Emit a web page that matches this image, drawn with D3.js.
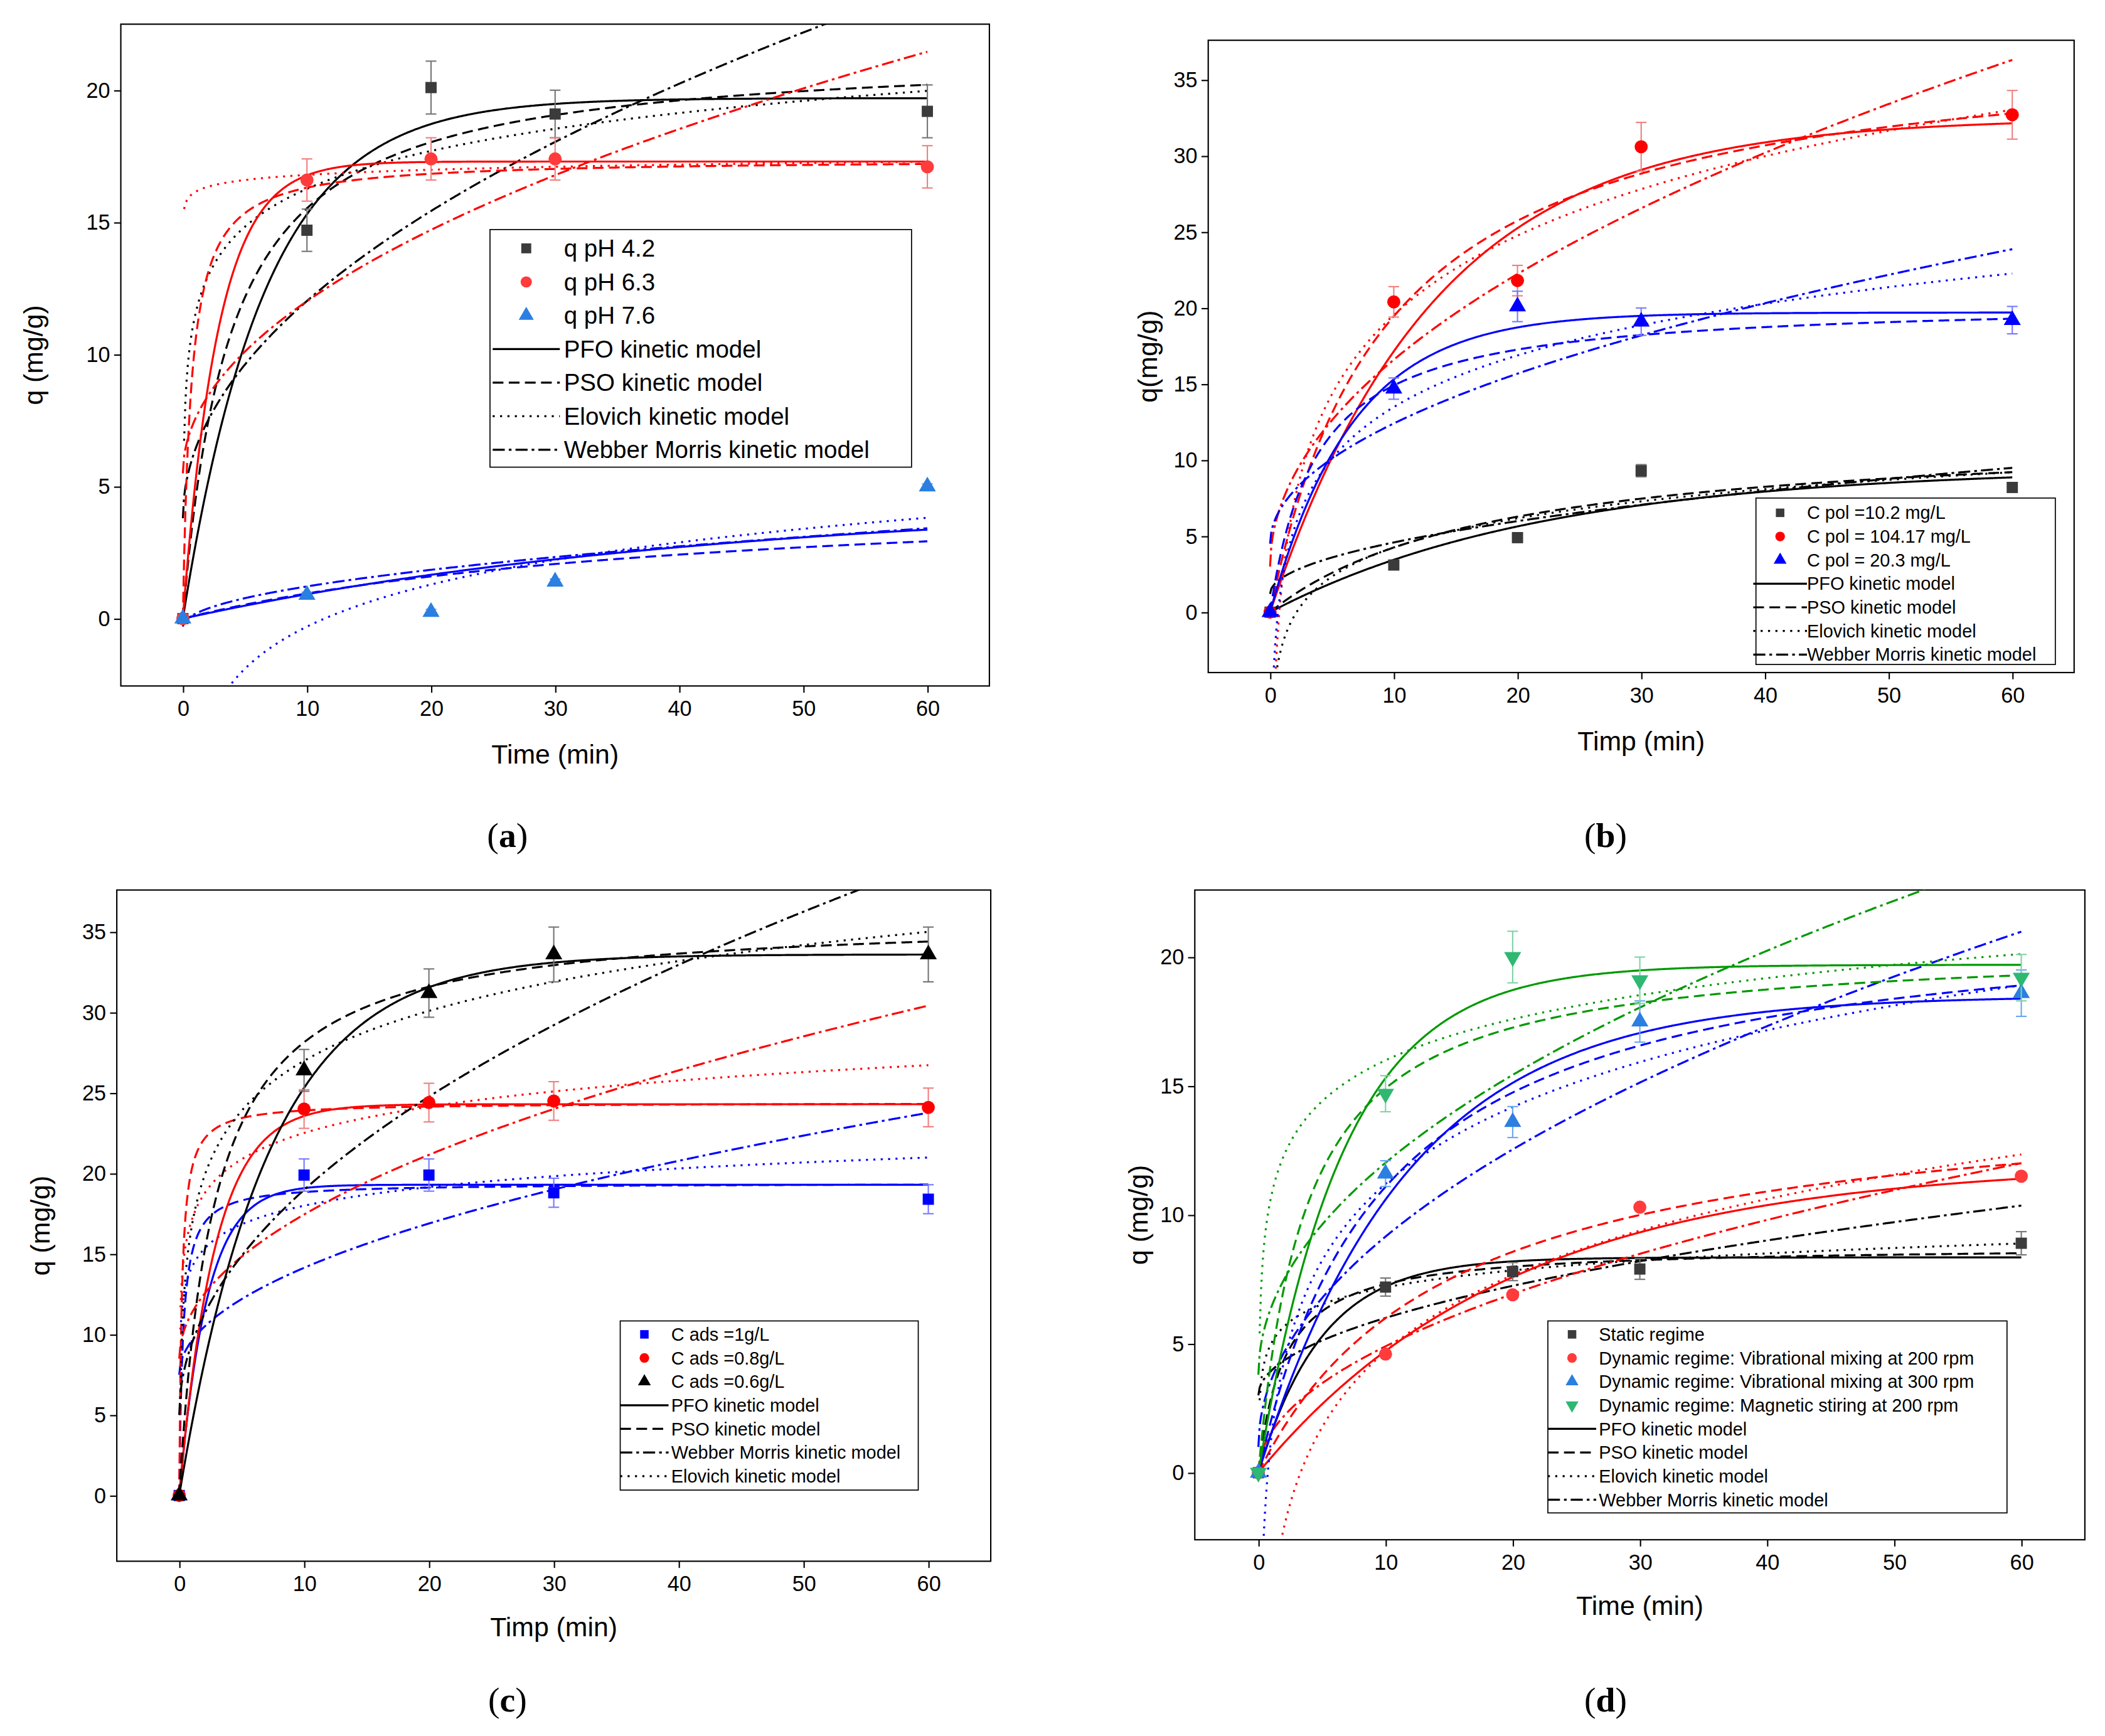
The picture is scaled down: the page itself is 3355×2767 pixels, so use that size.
<!DOCTYPE html>
<html><head><meta charset="utf-8">
<script src="https://cdn.jsdelivr.net/npm/d3@7"></script>
<style>body{margin:0;background:#fff}</style></head>
<body><svg id="c" width="3355" height="2767"></svg>
<script>
const times = [0, 10, 20, 30, 60];
// Panel (a)
const aPH42 = [0, 14.7, 20.1, 19.1, 19.2], aPH42err = [0, 0.8, 1.0, 0.9, 1.0];
const aPH63 = [0, 16.6, 17.4, 17.4, 17.1], aPH63err = [0, 0.8, 0.8, 0.8, 0.8];
const aPH76 = [0, 0.9, 0.25, 1.4, 5.0], aPH76err = [0, 0.1, 0.1, 0.1, 0.1];
// Panel (b)
const bC102 = [0, 3.1, 4.9, 9.3, 8.2], bC102err = [0, 0.3, 0.3, 0.4, 0.3];
const bC104 = [0, 20.4, 21.8, 30.6, 32.7], bC104err = [0, 1.0, 1.0, 1.6, 1.6];
const bC203 = [0, 14.7, 20.1, 19.1, 19.2], bC203err = [0, 0.7, 1.0, 0.9, 0.9];
// Panel (c)
const cA1 = [0, 19.9, 19.9, 18.8, 18.4], cA1err = [0, 1.0, 1.0, 0.9, 0.9];
const cA08 = [0, 24.0, 24.4, 24.5, 24.1], cA08err = [0, 1.2, 1.2, 1.2, 1.2];
const cA06 = [0, 26.4, 31.2, 33.6, 33.6], cA06err = [0, 1.3, 1.5, 1.7, 1.7];
// Panel (d)
const dStatic = [0, 7.2, 7.8, 7.9, 8.9], dStaticErr = [0, 0.35, 0.35, 0.4, 0.45];
const dV200 = [0, 4.6, 6.9, 10.3, 11.5], dV200err = [0, 0.1, 0.1, 0.1, 0.1];
const dV300 = [0, 11.6, 13.6, 17.5, 18.6], dV300err = [0, 0.5, 0.6, 0.8, 0.9];
const dM200 = [0, 14.7, 20.0, 19.1, 19.2], dM200err = [0, 0.7, 1.0, 0.9, 0.9];
// Fitted model parameters: [PFO qe,k1], [PSO qe,k2], [Elovich A,B], [WM C,kid]
const pfo = {a:[[19.7,0.15],[17.3,0.35],[4.5,0.023]], b:[[9.5,0.045],[32.5,0.075],[19.7,0.15]], c:[[19.3,0.45],[24.3,0.35],[33.6,0.14]], d:[[8.35,0.2],[12,0.05],[18.5,0.085],[19.7,0.15]]};
const pso = {a:[[21.5,0.0121],[17.4,0.086],[5,0.0047]], b:[[12,0.00457],[38,0.00276],[20.5,0.013]], c:[[19.4,0.175],[24.4,0.2],[36,0.00995]], d:[[8.8,0.056],[15,0.00444],[22,0.00462],[20.5,0.013]]};
const elo = {a:[[11.5,2.07],[16.15,0.28],[-5.6,2.3]], b:[[-2.1,2.76],[2.2,7.53],[2.2,4.9]], c:[[14.15,1.67],[17.1,2.35],[16.7,4.47]], d:[[5.0,0.95],[-5.1,4.26],[1.3,4.3],[10.7,2.3]]};
const wm = {a:[[3.8,2.6],[5.5,2.06],[-0.3,0.48]], b:[[1.2,1.07],[3,4.3],[4.5,2.5]], c:[[7.5,2.1],[8.5,2.83],[5,4.42]], d:[[3.0,0.95],[0,1.55],[1,2.58],[3.8,2.6]]};
const xTicks = [0,10,20,30,40,50,60];

const S = 3355/1568;
const svg = d3.select('#c');
const root = svg.append('g').attr('transform',`scale(${S})`);
const FONT = 'Liberation Sans, Arial, sans-serif';
const dashes = {pfo:null, pso:'8,4', elo:'1.5,4', wm:'9,3,2,3'};

function sym(type, size){
  const m = {square:d3.symbolSquare, circle:d3.symbolCircle, tri:d3.symbolTriangle, tridown:d3.symbolTriangle};
  return d3.symbol().type(m[type]).size(size)();
}

function panel(cfg){
  const g = root.append('g');
  const x = d3.scaleLinear().domain([-5,65]).range([cfg.box[0], cfg.box[2]]);
  const y = d3.scaleLinear().domain(cfg.ydom).range([cfg.box[3], cfg.box[1]]);
  const id = 'clip'+cfg.key;
  g.append('clipPath').attr('id',id).append('rect').attr('x',cfg.box[0]).attr('y',cfg.box[1])
    .attr('width',cfg.box[2]-cfg.box[0]).attr('height',cfg.box[3]-cfg.box[1]);
  const xa = g.append('g').attr('transform',`translate(0,${cfg.box[3]})`).call(d3.axisBottom(x).tickValues(xTicks).tickSize(5).tickSizeOuter(0));
  const ya = g.append('g').attr('transform',`translate(${cfg.box[0]},0)`).call(d3.axisLeft(y).tickValues(cfg.yTicks).tickSize(5).tickSizeOuter(0));
  [xa,ya].forEach(a=>{a.selectAll('text').attr('font-family',FONT).attr('font-size',16).attr('fill','#000');a.select('.domain').remove();a.selectAll('line').attr('stroke','#000').attr('stroke-width',1);});
  xa.selectAll('text').attr('dy','0.9em');
  g.append('rect').attr('x',cfg.box[0]).attr('y',cfg.box[1]).attr('width',cfg.box[2]-cfg.box[0]).attr('height',cfg.box[3]-cfg.box[1]).attr('fill','none').attr('stroke','#000').attr('stroke-width',1);
  g.append('text').attr('x',(cfg.box[0]+cfg.box[2])/2).attr('y',cfg.xlabY).attr('text-anchor','middle').attr('font-family',FONT).attr('font-size',20).text(cfg.xlab);
  g.append('text').attr('transform',`translate(${cfg.ylabX},${(cfg.box[1]+cfg.box[3])/2}) rotate(-90)`).attr('text-anchor','middle').attr('font-family',FONT).attr('font-size',20).text(cfg.ylab);
  const tg = g.append('text').attr('x',cfg.tagX).attr('y',cfg.tagY).attr('text-anchor','middle').attr('font-family','Liberation Serif, serif').attr('font-size',26);
  tg.append('tspan').text('(');
  tg.append('tspan').attr('font-weight','bold').text(cfg.key);
  tg.append('tspan').text(')');
  const cg = g.append('g').attr('clip-path',`url(#${id})`);
  const ts = d3.range(0, 601).map(i=>i*0.1);
  const line = d3.line().x(d=>x(d[0])).y(d=>y(d[1]));
  cfg.series.forEach((s,i)=>{
    const P=pfo[cfg.key][i], Q=pso[cfg.key][i], E=elo[cfg.key][i], W=wm[cfg.key][i];
    const curves = {
      pfo: ts.map(t=>[t, P[0]*(1-Math.exp(-P[1]*t))]),
      pso: ts.map(t=>[t, Q[0]*Q[0]*Q[1]*t/(1+Q[0]*Q[1]*t)]),
      elo: ts.filter(t=>t>0).map(t=>[t, Math.max(E[0]+E[1]*Math.log(t), cfg.ydom[0]-5)]),
      wm: ts.map(t=>[t, W[0]+W[1]*Math.sqrt(t)])
    };
    Object.keys(curves).forEach(k=>{
      cg.append('path').attr('d',line(curves[k])).attr('fill','none').attr('stroke',s.line).attr('stroke-width',1.5).attr('stroke-dasharray',dashes[k]);
    });
  });
  cfg.series.forEach(s=>{
    times.forEach((t,j)=>{
      const e = s.err[j];
      if(e>0){
        const cx=x(t), y1=y(s.vals[j]+e), y2=y(s.vals[j]-e);
        g.append('line').attr('x1',cx).attr('x2',cx).attr('y1',y1).attr('y2',y2).attr('stroke',s.errc).attr('stroke-width',1);
        [y1,y2].forEach(yy=>g.append('line').attr('x1',cx-4).attr('x2',cx+4).attr('y1',yy).attr('y2',yy).attr('stroke',s.errc).attr('stroke-width',1));
      }
      g.append('path').attr('d',sym(s.sym, s.sym==='circle'?75:70)).attr('transform',`translate(${x(t)},${y(s.vals[j])})${s.sym==='tridown'?' rotate(180)':''}`).attr('fill',s.mark);
    });
  });
  const L = cfg.legend;
  g.append('rect').attr('x',L.box[0]).attr('y',L.box[1]).attr('width',L.box[2]-L.box[0]).attr('height',L.box[3]-L.box[1]).attr('fill','#fff').attr('stroke','#000').attr('stroke-width',0.8);
  const items = cfg.series.map(s=>({type:'mark',s,label:s.label})).concat(L.lines.map(l=>({type:'line',k:l[0],label:l[1]})));
  items.forEach((it,i)=>{
    const yy = L.y0 + i*L.dy;
    if(it.type==='mark'){
      g.append('path').attr('d',sym(it.s.sym, L.ms)).attr('transform',`translate(${L.symX},${yy})${it.s.sym==='tridown'?' rotate(180)':''}`).attr('fill',it.s.mark);
    } else {
      g.append('line').attr('x1',L.symX-L.ll).attr('x2',L.symX+L.ll).attr('y1',yy).attr('y2',yy).attr('stroke','#000').attr('stroke-width',1.5).attr('stroke-dasharray',dashes[it.k]);
    }
    g.append('text').attr('x',L.textX).attr('y',yy).attr('dy','0.35em').attr('font-family',FONT).attr('font-size',L.fs).text(it.label);
  });
}

panel({key:'a', box:[90,18,737,511], ydom:[-2.55,22.5], yTicks:[0,5,10,15,20], xlab:'Time (min)', xlabY:569, ylab:'q (mg/g)', ylabX:32, tagX:378, tagY:631,
  series:[
    {vals:aPH42, err:aPH42err, sym:'square', mark:'#3b3b3b', errc:'#777', line:'#000', label:'q pH 4.2'},
    {vals:aPH63, err:aPH63err, sym:'circle', mark:'#ff3b3b', errc:'#f08080', line:'#ff0000', label:'q pH 6.3'},
    {vals:aPH76, err:aPH76err, sym:'tri', mark:'#2a7fe0', errc:'#6aa8ee', line:'#0000ff', label:'q pH 7.6'}],
  legend:{box:[365,171,679,348], y0:185, dy:25, symX:392, textX:420, ms:55, ll:25, fs:18,
    lines:[['pfo','PFO kinetic model'],['pso','PSO kinetic model'],['elo','Elovich kinetic model'],['wm','Webber Morris kinetic model']]}});
panel({key:'b', box:[900,30,1545,501], ydom:[-3.97,37.6], yTicks:[0,5,10,15,20,25,30,35], xlab:'Timp (min)', xlabY:559, ylab:'q(mg/g)', ylabX:862, tagX:1196, tagY:631,
  series:[
    {vals:bC102, err:bC102err, sym:'square', mark:'#3b3b3b', errc:'#777', line:'#000', label:'C pol =10.2 mg/L'},
    {vals:bC104, err:bC104err, sym:'circle', mark:'#ff0000', errc:'#f08080', line:'#ff0000', label:'C pol = 104.17 mg/L'},
    {vals:bC203, err:bC203err, sym:'tri', mark:'#0000ff', errc:'#7a7aff', line:'#0000ff', label:'C pol = 20.3 mg/L'}],
  legend:{box:[1308,371,1531,495], y0:382, dy:17.6, symX:1326, textX:1346, ms:40, ll:20, fs:13.5,
    lines:[['pfo','PFO kinetic model'],['pso','PSO kinetic model'],['elo','Elovich kinetic model'],['wm','Webber Morris kinetic model']]}});
panel({key:'c', box:[87,663,738,1163], ydom:[-4.08,37.6], yTicks:[0,5,10,15,20,25,30,35], xlab:'Timp (min)', xlabY:1219, ylab:'q (mg/g)', ylabX:37, tagX:378, tagY:1275,
  series:[
    {vals:cA1, err:cA1err, sym:'square', mark:'#0000ff', errc:'#7a7aff', line:'#0000ff', label:'C ads =1g/L'},
    {vals:cA08, err:cA08err, sym:'circle', mark:'#ff0000', errc:'#f08080', line:'#ff0000', label:'C ads =0.8g/L'},
    {vals:cA06, err:cA06err, sym:'tri', mark:'#000', errc:'#777', line:'#000', label:'C ads =0.6g/L'}],
  legend:{box:[462,984,684,1110], y0:994, dy:17.6, symX:480, textX:500, ms:40, ll:18, fs:13.5,
    lines:[['pfo','PFO kinetic model'],['pso','PSO kinetic model'],['wm','Webber Morris kinetic model'],['elo','Elovich kinetic model']]}});
panel({key:'d', box:[890,663,1553,1147], ydom:[-2.6,22.6], yTicks:[0,5,10,15,20], xlab:'Time (min)', xlabY:1203, ylab:'q (mg/g)', ylabX:855, tagX:1196, tagY:1275,
  series:[
    {vals:dStatic, err:dStaticErr, sym:'square', mark:'#3b3b3b', errc:'#777', line:'#000', label:'Static regime'},
    {vals:dV200, err:dV200err, sym:'circle', mark:'#ff3b3b', errc:'#f08080', line:'#ff0000', label:'Dynamic regime: Vibrational mixing at 200 rpm'},
    {vals:dV300, err:dV300err, sym:'tri', mark:'#2a7fe0', errc:'#6aa8ee', line:'#0000ff', label:'Dynamic regime: Vibrational mixing at 300 rpm'},
    {vals:dM200, err:dM200err, sym:'tridown', mark:'#2eb872', errc:'#7fd4a6', line:'#009900', label:'Dynamic regime: Magnetic stiring at 200 rpm'}],
  legend:{box:[1153,984,1495,1127], y0:994, dy:17.6, symX:1171, textX:1191, ms:40, ll:18, fs:13.5,
    lines:[['pfo','PFO kinetic model'],['pso','PSO kinetic model'],['elo','Elovich kinetic model'],['wm','Webber Morris kinetic model']]}});
</script></body></html>
